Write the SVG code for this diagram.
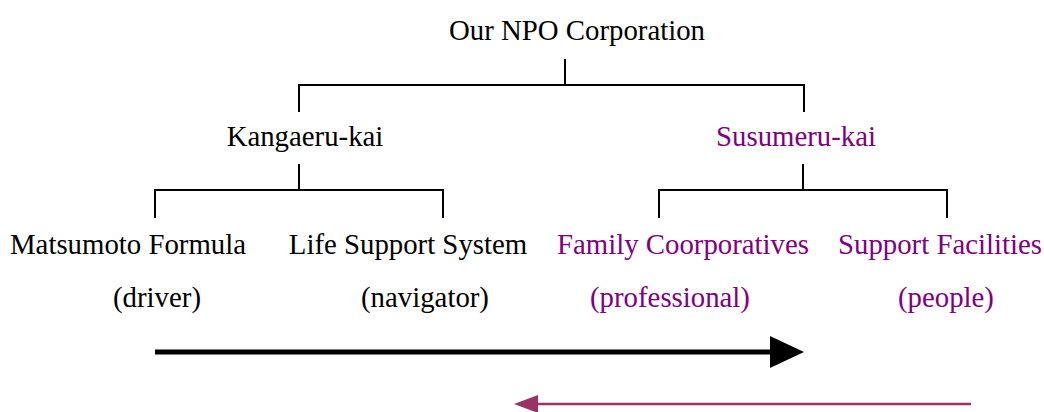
<svg xmlns="http://www.w3.org/2000/svg" width="1044" height="412" viewBox="0 0 1044 412">
<style>
text{font-family:"Liberation Serif","Times New Roman",serif;font-size:28.8px;text-anchor:middle;fill:#000}
.p{fill:#800080}
.c{stroke:#000;stroke-width:2;fill:none}
</style>
<defs>
<marker id="hb" markerUnits="userSpaceOnUse" markerWidth="34" markerHeight="32" refX="0" refY="16" orient="auto"><path d="M0,0 L34,16 L0,32 Z" fill="#000"/></marker>
<marker id="hp" markerUnits="userSpaceOnUse" markerWidth="24" markerHeight="18" refX="0" refY="9" orient="auto"><path d="M0,0 L24,9 L0,18 Z" fill="#993366"/></marker>
</defs>
<rect width="1044" height="412" fill="#fff"/>
<g id="root"><text x="577" y="40">Our NPO Corporation</text></g>
<g id="kangaeru"><text x="305" y="146">Kangaeru-kai</text></g>
<g id="susumeru"><text class="p" x="796" y="146">Susumeru-kai</text></g>
<g id="matsumoto"><text x="128" y="254">Matsumoto Formula</text><text x="157" y="307">(driver)</text></g>
<g id="lifesupport"><text x="408" y="254">Life Support System</text><text x="425" y="307">(navigator)</text></g>
<g id="family"><text class="p" x="683" y="254">Family Coorporatives</text><text class="p" x="670" y="307">(professional)</text></g>
<g id="facilities"><text class="p" x="940" y="254">Support Facilities</text><text class="p" x="946" y="307">(people)</text></g>
<g id="connectors">
<path class="c" d="M565,59 V85 M299,112 V85 H804 V112"/>
<path class="c" d="M299,164 V190 M155,218 V190 H443 V218"/>
<path class="c" d="M803,164 V190 M659,218 V190 H947 V218"/>
<line x1="155" y1="352" x2="770" y2="352" stroke="#000" stroke-width="5" marker-end="url(#hb)"/>
<line x1="971" y1="404" x2="538" y2="404" stroke="#993366" stroke-width="2.5" marker-end="url(#hp)"/>
</g>
</svg>
